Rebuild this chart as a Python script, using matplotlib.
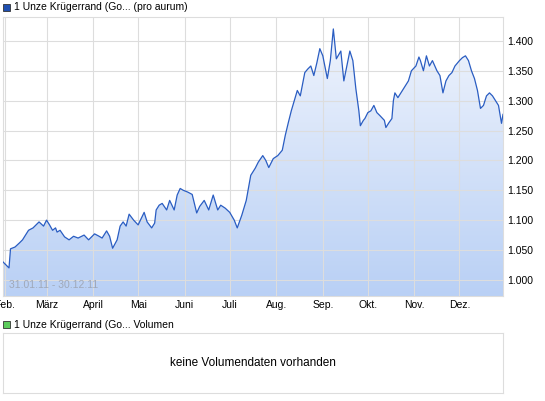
import matplotlib
matplotlib.use("Agg")
import matplotlib.pyplot as plt
import matplotlib.dates as mdates
import numpy as np
import datetime as dt
from matplotlib.patches import Rectangle

# data (days after 31.01.2011, price)
days = [0, 4, 5, 8, 11, 13, 15, 17, 20, 22, 24, 27, 29, 31, 33, 35, 36, 38, 41, 44,
        47, 50, 54, 57, 61, 64, 66, 69, 71, 73, 76, 78, 80, 82, 84, 87, 90, 93, 94, 96,
        99, 101, 102, 104, 106, 109, 111, 114, 116, 118, 120, 123, 126, 129, 131, 134, 137, 140, 143, 145,
        148, 151, 154, 156, 159, 162, 165, 168, 170, 173, 175, 177, 180, 183, 186, 188, 190, 192, 194, 196,
        198, 201, 203, 205, 207, 209, 211, 213, 216, 218, 220, 222, 225, 227, 229, 231, 233, 235, 237, 238,
        240, 241, 243, 245, 247, 249, 251, 254, 255, 257, 259, 260, 261, 263, 266, 268, 270, 272, 275, 277,
        278, 280, 282, 284, 286, 289, 291, 293, 295, 297, 299, 301, 304, 306, 308, 310, 312, 314, 316, 318,
        320, 322, 324, 326, 328, 330, 332, 333]
prices = [1.030, 1.020, 1.052, 1.055, 1.062, 1.067, 1.075, 1.083, 1.087, 1.092, 1.097, 1.090, 1.100, 1.092, 1.083, 1.087, 1.080, 1.083, 1.072, 1.067,
          1.073, 1.070, 1.075, 1.067, 1.077, 1.073, 1.070, 1.082, 1.073, 1.053, 1.067, 1.090, 1.097, 1.090, 1.110, 1.100, 1.092, 1.108, 1.113, 1.097,
          1.087, 1.095, 1.117, 1.125, 1.128, 1.117, 1.133, 1.117, 1.142, 1.153, 1.150, 1.147, 1.143, 1.112, 1.123, 1.133, 1.117, 1.142, 1.117, 1.125,
          1.120, 1.113, 1.100, 1.087, 1.108, 1.133, 1.175, 1.187, 1.197, 1.208, 1.200, 1.188, 1.203, 1.208, 1.217, 1.242, 1.263, 1.283, 1.300, 1.317,
          1.308, 1.347, 1.353, 1.358, 1.342, 1.363, 1.387, 1.375, 1.337, 1.367, 1.420, 1.370, 1.383, 1.333, 1.358, 1.383, 1.367, 1.320, 1.283, 1.258,
          1.267, 1.270, 1.280, 1.283, 1.292, 1.280, 1.275, 1.267, 1.255, 1.263, 1.270, 1.300, 1.313, 1.305, 1.317, 1.325, 1.333, 1.350, 1.358, 1.373,
          1.367, 1.350, 1.375, 1.358, 1.367, 1.350, 1.342, 1.313, 1.333, 1.342, 1.347, 1.358, 1.367, 1.372, 1.375, 1.367, 1.350, 1.337, 1.317, 1.287,
          1.292, 1.308, 1.313, 1.308, 1.300, 1.292, 1.262, 1.277]
yticks = [1.0, 1.05, 1.1, 1.15, 1.2, 1.25, 1.3, 1.35, 1.4]
month_labels = ["Feb.", "März", "April", "Mai", "Juni", "Juli", "Aug.", "Sep.", "Okt.", "Nov.", "Dez."]

start = dt.datetime(2011, 1, 31)
dates = [start + dt.timedelta(days=d) for d in days]
x = mdates.date2num(dates)
y = np.array(prices)

W, H = 545, 401
fig = plt.figure(figsize=(W / 100, H / 100), dpi=100)
plt.rcParams['font.family'] = ['Liberation Sans', 'DejaVu Sans']

def box(l, t, r, b):
    return [l / W, 1 - b / H, (r - l) / W, (b - t) / H]

ax = fig.add_axes(box(3, 17, 503, 296))
ymin, ymax = 0.973, 1.44
x0 = mdates.date2num(start)
x1 = mdates.date2num(dt.datetime(2011, 12, 30))
ax.set_xlim(x0, x1)
ax.set_ylim(ymin, ymax)

# gradient fill under the line
grad = np.linspace(0, 1, 256).reshape(-1, 1)
cmap = matplotlib.colors.LinearSegmentedColormap.from_list("g", ["#b9d0f5", "#f1f5fd"])
im = ax.imshow(grad, extent=[x0, x1, ymin, ymax], origin="lower", aspect="auto",
               cmap=cmap, zorder=1)
poly = ax.fill_between(x, y, ymin, color="none")
path = poly.get_paths()[0]
im.set_clip_path(path, transform=ax.transData)
ax.plot(x, y, color="#2a5dc2", lw=0.9, zorder=3)

months = [mdates.date2num(dt.datetime(2011, m, 1)) for m in range(2, 13)]
ax.set_xticks(months)
ax.set_xticklabels(month_labels, fontsize=7.5)
ax.set_yticks(yticks)
ax.set_yticklabels([f"{v:.3f}" for v in yticks], fontsize=7.5)
ax.yaxis.tick_right()
ax.tick_params(length=0, pad=3)
ax.grid(True, color="#dddddd", lw=0.8, zorder=2)
ax.set_axisbelow(False)
for s in ax.spines.values():
    s.set_color("#dddddd")
for l in ax.get_xgridlines() + ax.get_ygridlines():
    l.set_zorder(2)
ax.text(0.012, 0.02, "31.01.11 - 30.12.11", transform=ax.transAxes, fontsize=7.5,
        color="#a0a8b8", va="bottom", zorder=4)

# legends
fig.patches.append(Rectangle((3 / W, 1 - 11 / H), 7 / W, 7 / H, transform=fig.transFigure,
                             facecolor="#1f4fb0", edgecolor="#333333", lw=0.6))
fig.text(14 / W, 1 - 7.5 / H, "1 Unze Krügerrand (Go... (pro aurum)", fontsize=7.5, va="center")
fig.patches.append(Rectangle((3 / W, 1 - 328 / H), 7 / W, 7 / H, transform=fig.transFigure,
                             facecolor="#5ccc5c", edgecolor="#333333", lw=0.6))
fig.text(14 / W, 1 - 324.5 / H, "1 Unze Krügerrand (Go... Volumen", fontsize=7.5, va="center")

ax2 = fig.add_axes(box(3, 333, 503, 393))
ax2.set_xticks([])
ax2.set_yticks([])
for s in ax2.spines.values():
    s.set_color("#dddddd")
ax2.text(0.5, 0.5, "keine Volumendaten vorhanden", transform=ax2.transAxes,
         ha="center", va="center", fontsize=8.5)

fig.savefig("out.png", dpi=100)
